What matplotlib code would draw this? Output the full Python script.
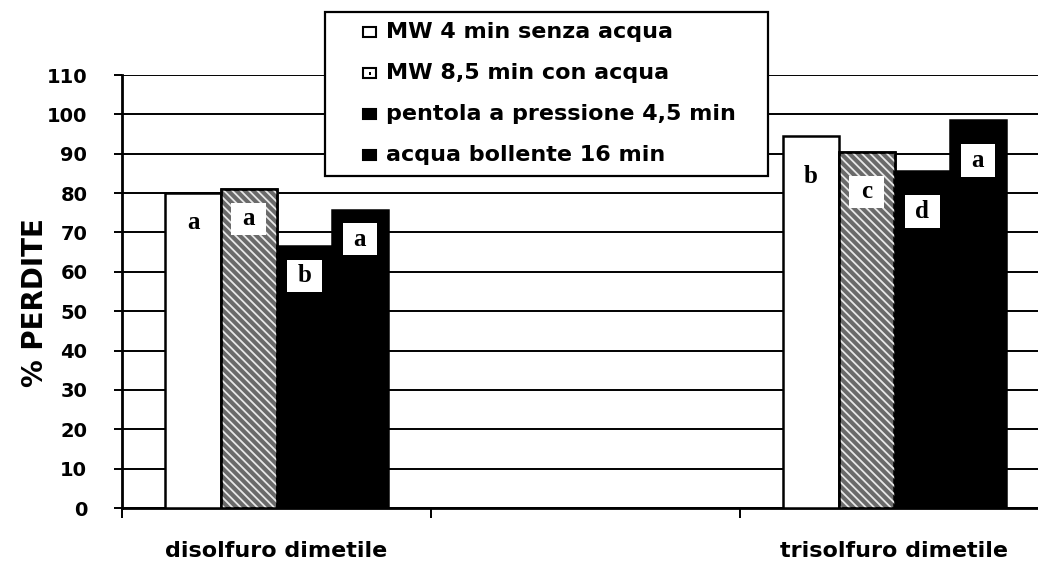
import numpy as np
import matplotlib
matplotlib.use("Agg")
import matplotlib.pyplot as plt
from matplotlib.patches import Rectangle

# --- data -----------------------------------------------------------------
categories = ["disolfuro dimetile", "", "trisolfuro dimetile"]
series_names = [
    "MW 4 min senza acqua",
    "MW 8,5 min con acqua",
    "pentola a pressione 4,5 min",
    "acqua bollente 16 min",
]
mw_dry = [80.0, np.nan, 94.5]
mw_water = [81.0, np.nan, 90.5]
pressure_cooker = [66.5, np.nan, 85.5]
boiling_water = [75.8, np.nan, 98.5]

letters_mw_dry = ["a", "", "b"]
letters_mw_water = ["a", "", "c"]
letters_pressure = ["b", "", "d"]
letters_boiling = ["a", "", "a"]

y_ticks = list(range(0, 111, 10))

# --- figure ---------------------------------------------------------------
W, H = 1038, 563
fig = plt.figure(figsize=(W / 100, H / 100), dpi=100)
fig.patch.set_facecolor("white")
plt.rcParams["hatch.linewidth"] = 1.3

cat_px = 309.0
ax_left, ax_bottom, ax_top = 122.0, 508.0, 75.0
ax = fig.add_axes([ax_left / W, (H - ax_bottom) / H,
                   3 * cat_px / W, (ax_bottom - ax_top) / H])
ax.set_xlim(-0.5, 2.5)
ax.set_ylim(0, 110)

x = np.arange(len(categories))
bw = 0.18
series = [mw_dry, mw_water, pressure_cooker, boiling_water]
letters = [letters_mw_dry, letters_mw_water, letters_pressure, letters_boiling]
faces = ["white", "#6a6a6a", "black", "black"]

for i, (vals, face) in enumerate(zip(series, faces)):
    xpos = x + (i - 1.5) * bw
    ax.bar(xpos, vals, width=bw, color=face, edgecolor="black",
           linewidth=1.8, zorder=3)
    if i == 1:
        # stippled texture for the second series
        ax.bar(xpos, vals, width=bw, fill=False, hatch="\\\\\\\\",
               edgecolor="#e8e8e8", linewidth=0, zorder=3.5)
        ax.bar(xpos, vals, width=bw, fill=False, edgecolor="black",
               linewidth=1.8, zorder=3.6)

# significance letters in white boxes
label_drop = [7.5, np.nan, 10.2]
box_w, box_h = 0.112, 8.2
for i, (vals, labs) in enumerate(zip(series, letters)):
    for j, (v, lab) in enumerate(zip(vals, labs)):
        if not lab:
            continue
        cx = x[j] + (i - 1.5) * bw
        cy = v - label_drop[j]
        ax.add_patch(Rectangle((cx - box_w / 2, cy - box_h / 2), box_w, box_h,
                               facecolor="white", edgecolor="none", zorder=4))
        ax.text(cx, cy, lab, ha="center", va="center", fontsize=18,
                fontweight="bold", family="Liberation Serif", zorder=5)

# axes styling
ax.set_yticks(y_ticks)
ax.set_yticklabels([str(t) for t in y_ticks], fontsize=14, fontweight="heavy")
ax.yaxis.grid(True, color="black", linewidth=1.4, zorder=0)
ax.set_axisbelow(True)
ax.tick_params(axis="y", direction="out", length=6, width=1.4, pad=19)

ax.set_xticks([-0.5, 0.5, 1.5, 2.5])
ax.set_xticklabels([])
ax.tick_params(axis="x", which="major", direction="out", length=7, width=1.4)
ax.set_xticks(x, minor=True)
ax.set_xticklabels(categories, minor=True, fontsize=16, fontweight="bold")
ax.tick_params(axis="x", which="minor", length=0, pad=24)

for s in ("top", "right"):
    ax.spines[s].set_visible(False)
for s in ("left", "bottom"):
    ax.spines[s].set_linewidth(2.0)
    ax.spines[s].set_color("black")

ax.set_ylabel("% PERDITE", fontsize=20, fontweight="heavy")
ax.yaxis.set_label_coords((35.5 - ax_left) / (3 * cat_px),
                          (ax_bottom - 303) / (ax_bottom - ax_top))
ax.yaxis.label.set_verticalalignment("center")

# legend box drawn in figure pixels
def fx(px):
    return px / W

def fy(py):
    return 1 - py / H

leg_l, leg_t, leg_r, leg_b = 325, 12, 768, 176
fig.patches.append(Rectangle((fx(leg_l), fy(leg_b)), fx(leg_r - leg_l), (leg_b - leg_t) / H,
                             transform=fig.transFigure, facecolor="white",
                             edgecolor="black", linewidth=1.6, zorder=10))
row_y = [32, 73, 114, 155]
for k, (name, face, yy) in enumerate(zip(series_names, faces, row_y)):
    swatch_face = "black" if face == "black" else "white"
    fig.patches.append(Rectangle((fx(363), fy(yy + 5)), fx(13), 10 / H,
                                 transform=fig.transFigure, facecolor=swatch_face,
                                 edgecolor="black", linewidth=1.5, zorder=11))
    if k == 1:
        fig.patches.append(Rectangle((fx(368.5), fy(yy + 1.5)), fx(2), 2 / H,
                                     transform=fig.transFigure, facecolor="black",
                                     edgecolor="none", zorder=12))
    fig.text(fx(386), fy(yy), name, ha="left", va="center", fontsize=16,
             fontweight="bold", zorder=12)

fig.savefig("out.png", dpi=100, facecolor="white")
